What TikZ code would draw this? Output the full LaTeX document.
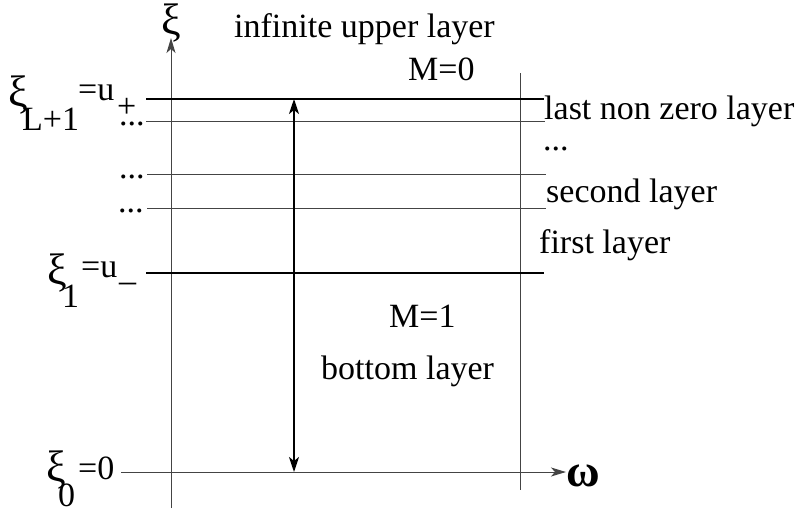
\documentclass[tikz,border=0pt]{standalone}
\usepackage{fontspec}
\setmainfont{Liberation Serif}
\usepackage{tikz}
\usetikzlibrary{arrows.meta, positioning}
\definecolor{lgrey}{HTML}{444444}

\tikzset{
  lbl/.style={inner sep=0pt, anchor=base west, font=\fontsize{34}{40}\selectfont},
  greek/.style={inner sep=0pt, anchor=center, font=\fontsize{44}{50}\selectfont},
  thinline/.style={lgrey, line width=1pt},
  thickline/.style={black, line width=2.8pt},
  axis/.style={lgrey, line width=1pt, -{Stealth[length=15pt, width=9pt, inset=4pt]}},
}

\begin{document}
\begin{tikzpicture}[x=1pt, y=-1pt]
\useasboundingbox (0,0) rectangle (805,512);
% axes and frame
\coordinate (xibot) at (171,508);
\coordinate (xitop) at (171,38);
\coordinate (wleft) at (121,472);
\coordinate (wright) at (566,472);
\coordinate (rtop) at (520,73);
\coordinate (rbot) at (520,490);
\draw[axis] (xibot) -- (xitop);
\draw[axis] (wleft) -- (wright);
\draw[thinline] (rtop) -- (rbot);
% layer boundaries
\coordinate (upL) at (146,99);   \coordinate (upR) at (544,99);
\coordinate (l1L) at (146,121);  \coordinate (l1R) at (545,121);
\coordinate (l2L) at (147,174);  \coordinate (l2R) at (546,174);
\coordinate (l3L) at (147,208);  \coordinate (l3R) at (546,208);
\coordinate (loL) at (146,273);  \coordinate (loR) at (544,273);
\draw[thickline] (upL) -- (upR);
\draw[thinline] (l1L) -- (l1R);
\draw[thinline] (l2L) -- (l2R);
\draw[thinline] (l3L) -- (l3R);
\draw[thickline] (loL) -- (loR);
% height arrow
\coordinate (htop) at (294,99);
\coordinate (hbot) at (294,472);
\draw[black, line width=2pt, {Stealth[length=15pt, width=10pt, inset=4pt]}-{Stealth[length=15pt, width=10pt, inset=4pt]}] (htop) -- (hbot);
% axis labels
\node[greek] (xilab) at (171,23) {ξ};
\node[greek, font=\fontsize{46}{50}\selectfont\bfseries] (omlab) at (583,476) {ω};
% left labels
\node[greek] (xiL) at (18,95) {ξ};
\node[lbl] (subL) at (22,130) {L+1};
\node[lbl] (eqL) at (78,100) {=u};
\node[lbl] (plusL) at (117,117) {+};
\node[lbl] (dots1) at (119,125) {...};
\node[lbl] (dots2) at (119,178) {...};
\node[lbl] (dots3) at (118,212) {...};
\node[greek] (xi1) at (57,273) {ξ};
\node[lbl] (sub1) at (62,307) {1};
\node[lbl] (eq1) at (81,277) {=u};
\node[lbl] (minus1) at (119,280) {\_};
\node[greek] (xi0) at (56,470) {ξ};
\node[lbl] (sub0) at (58,506) {0};
\node[lbl] (eq0) at (78,479) {=0};
% layer names
\node[lbl] (inf) at (234,37) {infinite upper layer};
\node[lbl] (mzero) at (408,80) {M=0};
\node[lbl] (last) at (544,119) {last non zero layer};
\node[lbl] (rdots) at (543,150) {...};
\node[lbl] (second) at (546,202) {second layer};
\node[lbl] (first) at (539,253) {first layer};
\node[lbl] (mone) at (389,327) {M=1};
\node[lbl] (bottom) at (321,379) {bottom layer};
\end{tikzpicture}
\end{document}
